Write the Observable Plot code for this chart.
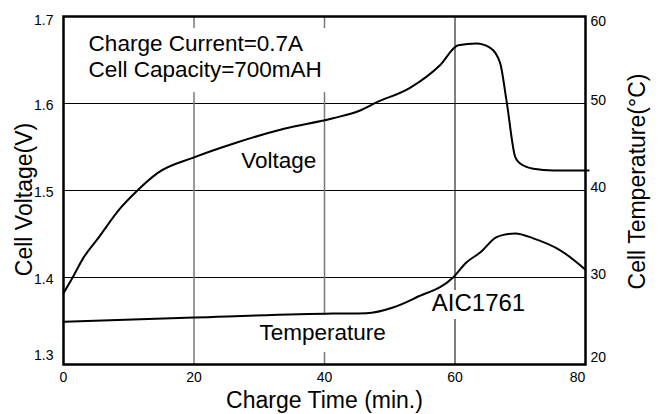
<!DOCTYPE html>
<html>
<head>
<meta charset="utf-8">
<script src="https://cdn.jsdelivr.net/npm/d3@7"></script>
<script src="https://cdn.jsdelivr.net/npm/@observablehq/plot@0.6"></script>
<style>
  html, body { margin: 0; padding: 0; background: #fff; }
  #chart svg { display: block; }
</style>
</head>
<body>
<div id="chart"></div>
<script>
// Voltage curve (left axis, V)
const voltTime = [0, 1.4, 3, 5.2, 8.75, 11.05, 14.4, 20, 26.1, 33.8, 41.3, 45.45, 47.9, 53.1, 57.7, 60.5, 63.3, 65.4, 66.9, 67.9, 69.25, 70.0, 72.0, 75.1, 80.5];
const voltage  = [1.382, 1.400, 1.422, 1.444, 1.480, 1.498, 1.520, 1.538, 1.554, 1.571, 1.583, 1.592, 1.601, 1.618, 1.644, 1.667, 1.669, 1.664, 1.647, 1.603, 1.538, 1.531, 1.525, 1.523, 1.523];

// Temperature curve (right axis, °C)
const tempTime = [0, 20, 41.3, 46.4, 50.5, 54.05, 59.7, 61.7, 63.9, 66.3, 67.4, 69.25, 72.0, 76.2, 80];
const temperature = [24.9, 25.4, 25.85, 25.9, 26.55, 27.7, 30.0, 31.7, 32.9, 34.6, 34.9, 35.06, 34.5, 33.1, 30.9];

// Ticks
const xTicks = [0, 20, 40, 60, 80];
const voltTicks = [1.3, 1.4, 1.5, 1.6, 1.7];
const tempTicks = [20, 30, 40, 50, 60];

// Labels
const noteLines = ["Charge Current=0.7A", "Cell Capacity=700mAH"];
const xLabel = "Charge Time (min.)";
const yLabel = "Cell Voltage(V)";
const y2Label = "Cell Temperature(\u00B0C)";

// map temperature onto the voltage scale (20..60 °C  ->  1.3..1.7 V)
const t2v = t => 1.3 + (t - 20) / 100;
const v2t = v => String(Math.round((v - 1.3) * 100 + 20));

const voltData = voltTime.map((t, i) => ({t, v: voltage[i]}));
const tempData = tempTime.map((t, i) => ({t, T: temperature[i]}));

const font = 14;
const big = 23;
const ann = 22.5;

const chart = Plot.plot({
  width: 664,
  height: 414,
  marginTop: 16,
  marginRight: 79,
  marginBottom: 50,
  marginLeft: 63,
  style: {fontFamily: "'Liberation Sans', Arial, Helvetica, sans-serif", color: "black", background: "white"},
  x: {domain: [0, 80]},
  y: {domain: [1.3, 1.7]},
  marks: [
    // grid
    Plot.ruleY([1.4, 1.5, 1.6], {stroke: "black", strokeWidth: 1}),
    Plot.ruleX([20, 40], {stroke: "#7a7a7a", strokeWidth: 1.5}),
    Plot.ruleX([60], {stroke: "black", strokeWidth: 1}),
    // white boxes behind annotations
    Plot.rect([0], {x1: () => 2.3, x2: () => 41.5, y1: () => 1.6125, y2: () => 1.6862, fill: "white"}),
    Plot.rect([0], {x1: () => 29.6, x2: () => 50, y1: () => 1.3138, y2: () => 1.3563, fill: "white"}),
    Plot.rect([0], {x1: () => 56, x2: () => 71.2, y1: () => 1.3517, y2: () => 1.385, fill: "white"}),
    // curves
    Plot.line(voltData, {x: "t", y: "v", stroke: "black", strokeWidth: 2, curve: "monotone-x"}),
    Plot.line(tempData, {x: "t", y: d => t2v(d.T), stroke: "black", strokeWidth: 2, curve: "monotone-x"}),
    // frame
    Plot.frame({stroke: "black", strokeWidth: 2.5}),
    // bottom axis
    Plot.axisX(xTicks.slice(0, 4), {tickSize: 0, tickPadding: 8, fontSize: font, label: null}),
    Plot.axisX([80], {tickSize: 0, tickPadding: 8, fontSize: font, label: null, dx: -8}),
    // left axis
    Plot.axisY([1.7], {tickSize: 0, tickPadding: 10, fontSize: font, label: null, tickFormat: ".1f", dy: 4}),
    Plot.axisY([1.4, 1.5, 1.6], {tickSize: 0, tickPadding: 10, fontSize: font, label: null, tickFormat: ".1f", dy: 2}),
    Plot.axisY([1.3], {tickSize: 0, tickPadding: 10, fontSize: font, label: null, tickFormat: ".1f", dy: -9}),
    // right axis (temperature)
    Plot.axisY([60].map(t2v), {anchor: "right", tickSize: 0, tickPadding: 5, fontSize: font, label: null, tickFormat: v2t, dy: 5}),
    Plot.axisY([50, 40, 30].map(t2v), {anchor: "right", tickSize: 0, tickPadding: 5, fontSize: font, label: null, tickFormat: v2t, dy: -3}),
    Plot.axisY([20].map(t2v), {anchor: "right", tickSize: 0, tickPadding: 5, fontSize: font, label: null, tickFormat: v2t, dy: -7}),
    // axis titles
    Plot.text([xLabel], {text: d => d, frameAnchor: "bottom", lineAnchor: "middle", dy: 36, fontSize: big, fill: "black"}),
    Plot.text([yLabel], {text: d => d, frameAnchor: "left", textAnchor: "middle", lineAnchor: "middle", rotate: -90, dx: -39, dy: 9, fontSize: big, fill: "black"}),
    Plot.text([y2Label], {text: d => d, frameAnchor: "right", textAnchor: "middle", lineAnchor: "middle", rotate: -90, dx: 52, dy: -9, fontSize: big, fill: "black"}),
    // annotations
    Plot.text([noteLines[0]], {text: d => d, x: () => 3.85, y: () => 1.6684, textAnchor: "start", fontSize: ann, fill: "black"}),
    Plot.text([noteLines[1]], {text: d => d, x: () => 3.85, y: () => 1.6385, textAnchor: "start", fontSize: ann, fill: "black"}),
    Plot.text(["Voltage"], {text: d => d, x: () => 33.0, y: () => 1.5345, fontSize: ann, fill: "black"}),
    Plot.text(["Temperature"], {text: d => d, x: () => 39.7, y: () => 1.3362, fontSize: ann, fill: "black"}),
    Plot.text(["AIC1761"], {text: d => d, x: () => 63.6, y: () => 1.3707, fontSize: 24, fill: "black"})
  ]
});
document.getElementById("chart").appendChild(chart);
</script>
</body>
</html>
